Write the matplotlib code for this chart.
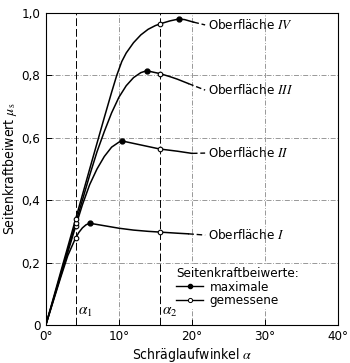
import matplotlib.pyplot as plt
from matplotlib.lines import Line2D

plt.rcParams['font.family'] = ['DejaVu Sans']
plt.rcParams['font.stretch'] = 'condensed'
plt.rcParams['mathtext.fontset'] = 'stix'

# Kurven (Schräglaufwinkel in Grad, Seitenkraftbeiwert)
w_I = [0, 1, 2, 3, 4, 4.5, 5, 5.5, 6, 8, 10, 12, 14, 16, 18, 19.5]
mu_I = [0, 0.075, 0.15, 0.222, 0.275, 0.296, 0.311, 0.321, 0.326, 0.318, 0.31, 0.304, 0.30, 0.297, 0.294, 0.292]
w_II = [0, 2, 4, 5, 6, 7, 8, 9, 10, 10.4, 12, 14, 15.6, 18, 20]
mu_II = [0, 0.155, 0.31, 0.385, 0.45, 0.5, 0.54, 0.57, 0.586, 0.59, 0.582, 0.572, 0.564, 0.557, 0.55]
w_III = [0, 2, 4, 6, 7, 8, 9, 10, 11, 12, 13, 13.8, 15.6, 17, 18, 19.5]
mu_III = [0, 0.16, 0.32, 0.48, 0.555, 0.62, 0.68, 0.73, 0.767, 0.793, 0.809, 0.815, 0.806, 0.796, 0.788, 0.774]
w_IV = [0, 2, 4, 6, 8, 9, 9.7, 10.4, 11, 12, 13, 14, 15, 16, 17, 18.2, 19, 20.2]
mu_IV = [0, 0.167, 0.333, 0.5, 0.665, 0.746, 0.8, 0.845, 0.872, 0.905, 0.93, 0.948, 0.96, 0.968, 0.975, 0.981, 0.979, 0.971]

# Maxima
peak_w = [6.0, 10.4, 13.8, 18.2]
peak_mu = [0.326, 0.59, 0.815, 0.981]

# gemessene Werte bei alpha1 und alpha2
alpha1 = 4.1
alpha2 = 15.6
mess_w = [alpha1, alpha2, alpha1, alpha2, alpha1, alpha2, alpha1, alpha2]
mess_mu = [0.28, 0.297, 0.318, 0.564, 0.328, 0.806, 0.341, 0.966]

num = ['IV', 'III', 'II', 'I']
label_y = [0.962, 0.753, 0.551, 0.288]
lead_start = [(20.2, 0.971), (19.5, 0.774), (20.0, 0.55), (19.5, 0.292)]

fig = plt.figure(figsize=(3.5, 3.63), dpi=100)
ax = fig.add_axes([0.131, 0.105, 0.835, 0.859])

for w, mu in [(w_I, mu_I), (w_II, mu_II), (w_III, mu_III), (w_IV, mu_IV)]:
    ax.plot(w, mu, color='black', lw=1.1, zorder=3)

ax.plot(peak_w, peak_mu, 'o', ms=3.5, color='black', zorder=4)
ax.plot(mess_w, mess_mu, 'o', ms=3.3, mfc='white', mec='black', mew=0.8, zorder=4)

# Hinweislinien und Beschriftungen
for (x0, y0), ly, n in zip(lead_start, label_y, num):
    ax.plot([x0, 21.8], [y0, ly], color='black', lw=1.0, ls=(0, (4, 2)), zorder=3)
    ax.text(22.2, ly, 'Oberfläche $\\mathit{' + n + '}$', fontsize=9.5,
            va='center', ha='left')

# alpha-Linien
for a in [alpha1, alpha2]:
    ax.axvline(a, color='black', lw=0.7, ls=(0, (8, 3)), zorder=2)
ax.text(alpha1 + 0.3, 0.02, r'$\alpha_1$', fontsize=11, ha='left', va='bottom')
ax.text(alpha2 + 0.3, 0.02, r'$\alpha_2$', fontsize=11, ha='left', va='bottom')

ax.set_xlim(0, 40)
ax.set_ylim(0, 1.0)
ax.set_xticks([0, 10, 20, 30, 40])
ax.set_xticklabels(['0°', '10°', '20°', '30°', '40°'])
ax.set_yticks([0, 0.2, 0.4, 0.6, 0.8, 1.0])
ax.set_yticklabels(['0', '0,2', '0,4', '0,6', '0,8', '1,0'])
ax.tick_params(direction='in', length=4, width=0.7, labelsize=9.5, pad=4)
ax.grid(True, color='#888888', lw=0.6, ls=(0, (6, 2, 1, 2)))
ax.set_axisbelow(True)
for s in ax.spines.values():
    s.set_linewidth(0.8)

ax.set_xlabel(r'Schräglaufwinkel $\alpha$', fontsize=10, labelpad=2)
ax.set_ylabel(r'Seitenkraftbeiwert $\mu_\mathrm{s}$', fontsize=10)
ax.yaxis.set_label_coords(-0.092, 0.5)

handles = [Line2D([], [], color='black', lw=1.0, marker='o', ms=3, mfc='black'),
           Line2D([], [], color='black', lw=1.0, marker='o', ms=3, mfc='white', mew=0.7)]
leg = ax.legend(handles, ['maximale', 'gemessene'], title='Seitenkraftbeiwerte:',
                loc='lower left', bbox_to_anchor=(0.44, 0.05, 0.556, 0.155),
                mode='expand', alignment='left', fontsize=9.5, title_fontsize=9.5,
                frameon=True, framealpha=1, facecolor='white', edgecolor='none',
                fancybox=False, handlelength=2.0, handletextpad=0.5,
                labelspacing=0.05, borderpad=0.15, borderaxespad=0)

fig.savefig('out.png', dpi=100)
